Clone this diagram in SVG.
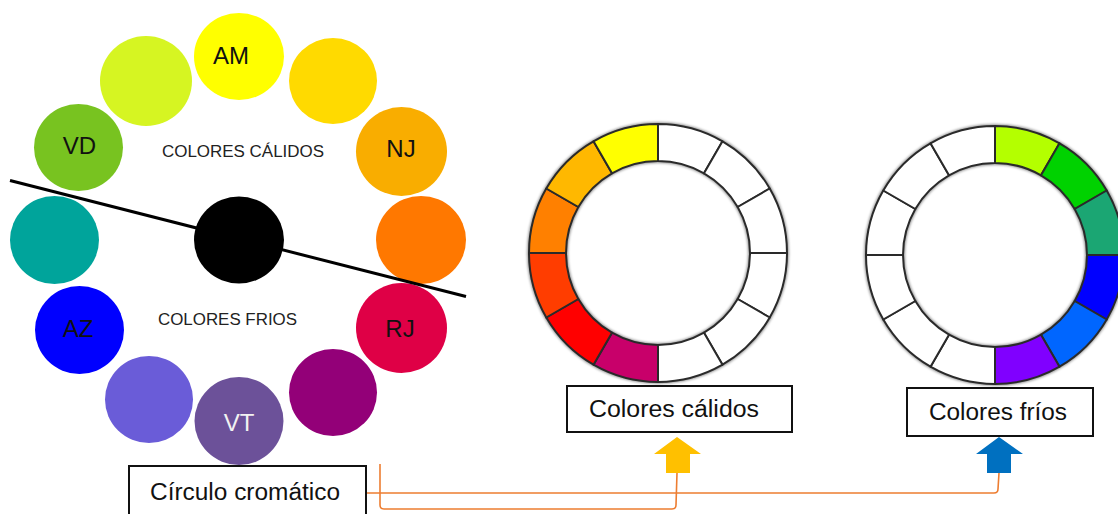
<svg xmlns="http://www.w3.org/2000/svg" xmlns:xlink="http://www.w3.org/1999/xlink" width="1118" height="514" viewBox="0 0 1118 514">
<style>
.lbl{font-family:"Liberation Sans",Arial,sans-serif;font-size:24px;fill:#111;text-anchor:middle}
.cap{font-family:"Liberation Sans",Arial,sans-serif;font-size:16px;fill:#222}
.btxt{font-family:"Liberation Sans",Arial,sans-serif;font-size:23px;fill:#111}
.box{fill:#fff;stroke:#111;stroke-width:2}
.seg{stroke:#2a2a2a;stroke-width:2;stroke-linejoin:round}
.conn{fill:none;stroke:#ED7D31;stroke-width:1.6}
</style>
<defs>
<path id="seg" d="M0,-129 A129,129 0 0 1 64.5,-111.72 L46,-79.67 A92,92 0 0 0 0,-92 Z"/>
<filter id="soft" x="-20%" y="-20%" width="140%" height="140%"><feGaussianBlur stdDeviation="1.6"/></filter>
</defs>
<rect width="1118" height="514" fill="#fff"/>

<g id="circulo">
<ellipse cx="239" cy="56.5" rx="45" ry="43.5" fill="#FFFF00"/>
<ellipse cx="146" cy="81" rx="46" ry="45" fill="#D6F522"/>
<ellipse cx="333" cy="81" rx="44" ry="43" fill="#FFDA00"/>
<ellipse cx="78.5" cy="147.5" rx="44.5" ry="43.5" fill="#78C320"/>
<ellipse cx="401.5" cy="151.5" rx="45.5" ry="44.5" fill="#F9AD00"/>
<ellipse cx="54.5" cy="240" rx="44.5" ry="44" fill="#00A49B"/>
<ellipse cx="239" cy="240" rx="45" ry="43.5" fill="#000"/>
<ellipse cx="421" cy="240" rx="45" ry="44" fill="#FF7800"/>
<ellipse cx="79.5" cy="330" rx="44.5" ry="44" fill="#0000FF"/>
<ellipse cx="401.5" cy="328" rx="45.5" ry="45" fill="#DF0046"/>
<ellipse cx="149" cy="399.5" rx="44" ry="43.5" fill="#6A5CD8"/>
<ellipse cx="239" cy="421" rx="44.5" ry="44" fill="#6C5199"/>
<ellipse cx="333" cy="392.5" rx="44" ry="43.5" fill="#930078"/>
<line x1="10" y1="180.5" x2="466" y2="296.5" stroke="#000" stroke-width="3"/>
<text class="lbl" x="231" y="64">AM</text>
<text class="lbl" x="79.5" y="154">VD</text>
<text class="lbl" x="401" y="157">NJ</text>
<text class="lbl" x="78" y="337">AZ</text>
<text class="lbl" x="400" y="337">RJ</text>
<text class="lbl" x="239" y="431" style="fill:#f2f2f2">VT</text>
<text class="cap" x="162" y="157" textLength="162" lengthAdjust="spacingAndGlyphs">COLORES CÁLIDOS</text>
<text class="cap" x="158" y="325" textLength="139" lengthAdjust="spacingAndGlyphs">COLORES FRIOS</text>
</g>

<g id="rueda-calidos" transform="translate(658,253)">
<circle r="129" fill="none" stroke="#000" stroke-width="3" opacity="0.55" filter="url(#soft)"/>
<circle r="92" fill="none" stroke="#000" stroke-width="3" opacity="0.55" filter="url(#soft)"/>
<use xlink:href="#seg" href="#seg" class="seg" fill="#fff" transform="rotate(0)"/>
<use xlink:href="#seg" href="#seg" class="seg" fill="#fff" transform="rotate(30)"/>
<use xlink:href="#seg" href="#seg" class="seg" fill="#fff" transform="rotate(60)"/>
<use xlink:href="#seg" href="#seg" class="seg" fill="#fff" transform="rotate(90)"/>
<use xlink:href="#seg" href="#seg" class="seg" fill="#fff" transform="rotate(120)"/>
<use xlink:href="#seg" href="#seg" class="seg" fill="#fff" transform="rotate(150)"/>
<use xlink:href="#seg" href="#seg" class="seg" fill="#C8006A" transform="rotate(180)"/>
<use xlink:href="#seg" href="#seg" class="seg" fill="#FF0000" transform="rotate(210)"/>
<use xlink:href="#seg" href="#seg" class="seg" fill="#FF3D00" transform="rotate(240)"/>
<use xlink:href="#seg" href="#seg" class="seg" fill="#FF8000" transform="rotate(270)"/>
<use xlink:href="#seg" href="#seg" class="seg" fill="#FFB800" transform="rotate(300)"/>
<use xlink:href="#seg" href="#seg" class="seg" fill="#FFFF00" transform="rotate(330)"/>
</g>

<g id="rueda-frios" transform="translate(995,255)">
<circle r="129" fill="none" stroke="#000" stroke-width="3" opacity="0.55" filter="url(#soft)"/>
<circle r="92" fill="none" stroke="#000" stroke-width="3" opacity="0.55" filter="url(#soft)"/>
<use xlink:href="#seg" href="#seg" class="seg" fill="#B4FF00" transform="rotate(0)"/>
<use xlink:href="#seg" href="#seg" class="seg" fill="#00D200" transform="rotate(30)"/>
<use xlink:href="#seg" href="#seg" class="seg" fill="#1BA673" transform="rotate(60)"/>
<use xlink:href="#seg" href="#seg" class="seg" fill="#0000FF" transform="rotate(90)"/>
<use xlink:href="#seg" href="#seg" class="seg" fill="#0066FF" transform="rotate(120)"/>
<use xlink:href="#seg" href="#seg" class="seg" fill="#8000FF" transform="rotate(150)"/>
<use xlink:href="#seg" href="#seg" class="seg" fill="#fff" transform="rotate(180)"/>
<use xlink:href="#seg" href="#seg" class="seg" fill="#fff" transform="rotate(210)"/>
<use xlink:href="#seg" href="#seg" class="seg" fill="#fff" transform="rotate(240)"/>
<use xlink:href="#seg" href="#seg" class="seg" fill="#fff" transform="rotate(270)"/>
<use xlink:href="#seg" href="#seg" class="seg" fill="#fff" transform="rotate(300)"/>
<use xlink:href="#seg" href="#seg" class="seg" fill="#fff" transform="rotate(330)"/>
</g>

<g id="connectors">
<path class="conn" d="M366,493 L994,493 Q998,493 998,489 L999,473"/>
<path class="conn" d="M380,464 L380,505 Q380,509 384,509 L672,509 Q676,509 676,505 L677,473"/>
<polygon points="677,437 701,454 690,454 690,473 666,473 666,454 654,454" fill="#FFC000"/>
<polygon points="999,437 1023,454 1011,454 1011,473 987,473 987,454 976,454" fill="#0070C0"/>
</g>

<g id="box-circulo">
<rect class="box" x="129" y="466" width="237" height="56"/>
<text class="btxt" x="150" y="500" textLength="190" lengthAdjust="spacingAndGlyphs">Círculo cromático</text>
</g>
<g id="box-calidos">
<rect class="box" x="567" y="386" width="225" height="46"/>
<text class="btxt" x="589" y="417" textLength="170" lengthAdjust="spacingAndGlyphs">Colores cálidos</text>
</g>
<g id="box-frios">
<rect class="box" x="907" y="388" width="186" height="48"/>
<text class="btxt" x="929" y="420" textLength="138" lengthAdjust="spacingAndGlyphs">Colores fríos</text>
</g>
</svg>
